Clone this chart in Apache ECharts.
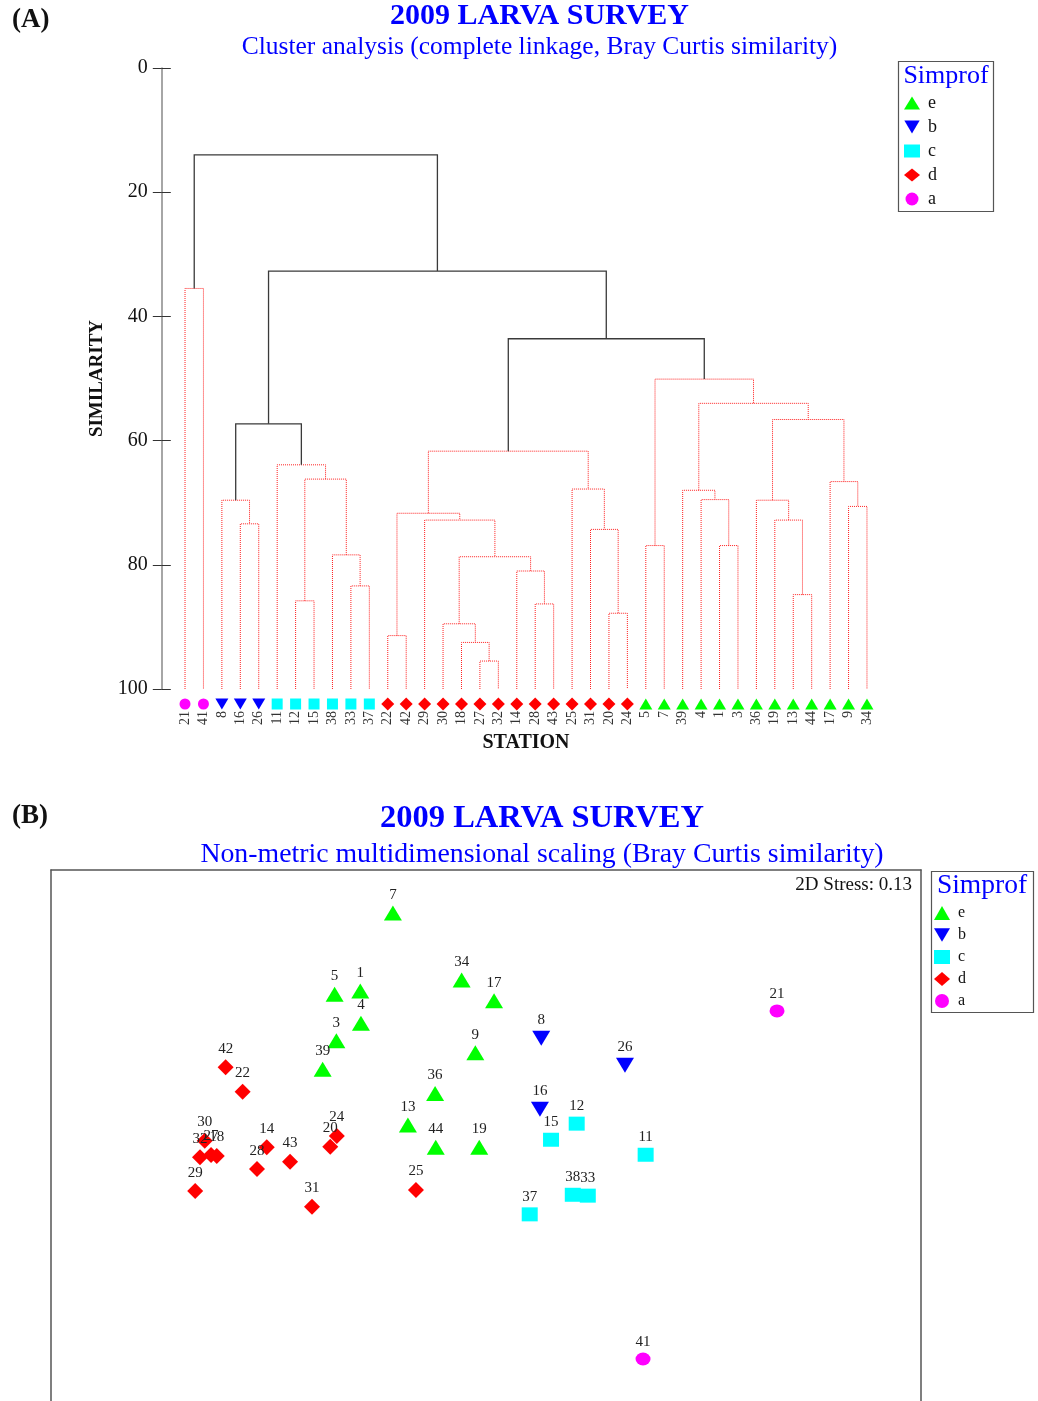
<!DOCTYPE html>
<html><head><meta charset="utf-8">
<script src="https://cdn.jsdelivr.net/npm/echarts@6/dist/echarts.min.js"></script>
<style>html,body{margin:0;padding:0;background:#fff}#c{width:1038px;height:1401px}</style>
</head><body><div id="c"></div>
<script>
// ---------- DATA ----------
// Dendrogram leaf order (stations) and their SIMPROF group
const stations = ['21','41','8','16','26','11','12','15','38','33','37','22','42','29','30','18','27','32','14','28','43','25','31','20','24','5','7','39','4','1','3','36','19','13','44','17','9','34'];
const stationGroup = ['a','a','b','b','b','c','c','c','c','c','c','d','d','d','d','d','d','d','d','d','d','d','d','d','d','e','e','e','e','e','e','e','e','e','e','e','e','e'];
// Merges: [child A, child B, similarity, significant]; 'mK' refers to merge K
const merges = [
  ['21','41',35.5,false],   // m0
  ['16','26',73.4,false],   // m1
  ['8','m1',69.6,false],    // m2
  ['33','37',83.4,false],   // m3
  ['38','m3',78.4,false],   // m4
  ['12','15',85.8,false],   // m5
  ['m5','m4',66.2,false],   // m6
  ['11','m6',63.9,false],   // m7
  ['m2','m7',57.3,true],    // m8
  ['22','42',91.4,false],   // m9
  ['27','32',95.5,false],   // m10
  ['18','m10',92.5,false],  // m11
  ['30','m11',89.5,false],  // m12
  ['28','43',86.3,false],   // m13
  ['14','m13',81.0,false],  // m14
  ['m12','m14',78.7,false], // m15
  ['29','m15',72.8,false],  // m16
  ['m9','m16',71.7,false],  // m17
  ['20','24',87.8,false],   // m18
  ['31','m18',74.3,false],  // m19
  ['25','m19',67.8,false],  // m20
  ['m17','m20',61.7,false], // m21
  ['5','7',76.9,false],     // m22
  ['1','3',76.9,false],     // m23
  ['4','m23',69.5,false],   // m24
  ['39','m24',68.0,false],  // m25
  ['13','44',84.8,false],   // m26
  ['19','m26',72.8,false],  // m27
  ['36','m27',69.6,false],  // m28
  ['9','34',70.6,false],    // m29
  ['17','m29',66.6,false],  // m30
  ['m28','m30',56.6,false], // m31
  ['m25','m31',54.0,false], // m32
  ['m22','m32',50.1,false], // m33
  ['m21','m33',43.6,true],  // m34
  ['m8','m34',32.7,true],   // m35
  ['m0','m35',14.0,true]    // m36
];
const simMin = 0, simMax = 100, simInterval = 20;
const groups = ['e','b','c','d','a'];
// NMDS ordination coordinates
const nmdsStation = ['7','5','1','4','3','39','34','17','9','36','13','44','19','42','22','30','32','27','18','14','28','43','29','31','24','20','25','8','26','16','12','15','11','38','33','37','21','41'];
const nmdsX = [-0.428,-0.696,-0.578,-0.575,-0.688,-0.751,-0.112,0.037,-0.049,-0.234,-0.359,-0.231,-0.031,-1.197,-1.119,-1.293,-1.315,-1.264,-1.238,-1.008,-1.053,-0.901,-1.337,-0.800,-0.686,-0.716,-0.322,0.254,0.639,0.248,0.417,0.299,0.734,0.399,0.468,0.201,1.338,0.722];
const nmdsY = [1.102,0.729,0.744,0.595,0.515,0.384,0.794,0.699,0.460,0.273,0.128,0.025,0.025,0.393,0.281,0.055,-0.021,-0.010,-0.015,0.025,-0.075,-0.041,-0.176,-0.248,0.077,0.028,-0.171,0.526,0.403,0.200,0.134,0.060,-0.009,-0.193,-0.197,-0.283,0.652,-0.948];
const nmdsXRange = [-2, 2], nmdsYRange = [-1.141, 1.3];
const stressText = '2D Stress: 0.13';

// ---------- STYLES ----------
const SERIF = '"Liberation Serif","Times New Roman",serif';
const groupStyle = {
  e: {color:'#00ff00', symbol:'triangle', top:[13,11], nmds:[18,15]},
  b: {color:'#0000ff', symbol:'path://M0,0L20,0L10,17Z', top:[13,11], nmds:[18,15]},
  c: {color:'#00ffff', symbol:'rect', top:[11,11], nmds:[16,14]},
  d: {color:'#ff0000', symbol:'diamond', top:[13,13], nmds:[16,16]},
  a: {color:'#ff00ff', symbol:'circle', top:[11,11], nmds:[15,13]}
};
const frameLine = {show:true, onZero:false, lineStyle:{color:'#555', width:1.5}};

// ---------- BUILD ----------
const chart = echarts.init(document.getElementById('c'), null, {renderer:'canvas'});

function nodeH(ref){ return ref[0]==='m' ? merges[+ref.slice(1)][2] : simMax; }
function nodeX(ref, api){
  if (ref[0]==='m'){ const m = merges[+ref.slice(1)]; return (nodeX(m[0],api)+nodeX(m[1],api))/2; }
  return api.coord([stations.indexOf(ref), simMax])[0];
}

const series = [];
series.push({
  type:'custom', xAxisIndex:0, yAxisIndex:0, silent:true, z:1,
  data: merges.map((m,i)=>[0, m[2]]),
  renderItem(params, api){
    const m = merges[params.dataIndex];
    const yTop = api.coord([0, m[2]])[1];
    const a = {x:nodeX(m[0],api), y:api.coord([0,nodeH(m[0])])[1]};
    const b = {x:nodeX(m[1],api), y:api.coord([0,nodeH(m[1])])[1]};
    const st = m[3] ? {stroke:'#3a3a3a', lineWidth:1.3, fill:null}
                    : {stroke:'#ff2020', lineWidth:1, lineDash:[1,1], fill:null};
    return {type:'polyline', shape:{points:[[a.x,a.y],[a.x,yTop],[b.x,yTop],[b.x,b.y]]}, style:st};
  }
});
groups.forEach(g=>{
  const gs = groupStyle[g];
  series.push({
    type:'scatter', name:g, xAxisIndex:0, yAxisIndex:0, clip:false, silent:true, z:3,
    symbol:gs.symbol, symbolSize:gs.top, symbolOffset:[0,15],
    itemStyle:{color:gs.color, opacity:1},
    data: stations.filter((s,i)=>stationGroup[i]===g).map(s=>[s, simMax])
  });
});
groups.forEach(g=>{
  const gs = groupStyle[g];
  const data = [];
  nmdsStation.forEach((s,i)=>{ if (stationGroup[stations.indexOf(s)]===g) data.push([nmdsX[i], nmdsY[i], s]); });
  series.push({
    type:'scatter', name:g, xAxisIndex:1, yAxisIndex:2, clip:false, silent:true, z:3,
    symbol:gs.symbol, symbolSize:gs.nmds,
    itemStyle:{color:gs.color, opacity:1},
    label:{show:true, position:'top', distance:3, formatter:p=>p.value[2], fontFamily:SERIF, fontSize:15, color:'#222'},
    data
  });
});

function txt(text, x, y, font, fill, align){
  return {type:'text', x, y, silent:true, z:10, style:{text, font, fill, align:align||'center', verticalAlign:'middle', textAlign:align||'center', textVerticalAlign:'middle'}};
}
const hiddenParts = {axisTick:{show:false}, axisLabel:{show:false}, splitLine:{show:false}};

const option = {
  animation:false,
  backgroundColor:'#fff',
  grid:[
    {left:175.8, right:161.8, top:68, bottom:712},
    {left:51, right:117, top:870, bottom:0}
  ],
  xAxis:[
    {gridIndex:0, type:'category', data:stations, boundaryGap:true,
     axisLine:{show:false}, axisTick:{show:false}, splitLine:{show:false},
     axisLabel:{rotate:90, interval:0, margin:22, fontSize:14, fontFamily:SERIF, color:'#333'},
     name:'STATION', nameLocation:'middle', nameGap:44,
     nameTextStyle:{fontSize:20, fontWeight:'bold', fontFamily:SERIF, color:'#111'}},
    Object.assign({gridIndex:1, type:'value', min:nmdsXRange[0], max:nmdsXRange[1], position:'top', axisLine:frameLine}, hiddenParts)
  ],
  yAxis:[
    {gridIndex:0, type:'value', min:simMin, max:simMax, interval:simInterval, inverse:true, position:'left', offset:14,
     axisLine:{show:true, lineStyle:{color:'#888', width:1.5}},
     axisTick:{show:true, inside:false, length:9, lineStyle:{color:'#333', width:1}},
     axisLabel:{margin:14, fontSize:20, fontFamily:SERIF, color:'#111'},
     splitLine:{show:false},
     name:'SIMILARITY', nameLocation:'middle', nameGap:54,
     nameTextStyle:{fontSize:19, fontWeight:'bold', fontFamily:SERIF, color:'#111'}},
    {gridIndex:0, type:'value', min:simMin, max:simMax, interval:simInterval, inverse:true, position:'left', offset:14,
     axisLine:{show:false}, axisTick:{show:true, inside:true, length:9, lineStyle:{color:'#333', width:1}},
     axisLabel:{show:false}, splitLine:{show:false}},
    Object.assign({gridIndex:1, type:'value', min:nmdsYRange[0], max:nmdsYRange[1], position:'left', axisLine:frameLine}, hiddenParts),
    Object.assign({gridIndex:1, type:'value', min:nmdsYRange[0], max:nmdsYRange[1], position:'right', axisLine:frameLine}, hiddenParts)
  ],
  legend:[
    {data:groups, orient:'vertical', left:899, top:89, itemWidth:16, itemHeight:13, itemGap:6,
     selectedMode:false, textStyle:{fontSize:18, lineHeight:18, fontFamily:SERIF, color:'#111', padding:[0,0,0,3]}},
    {data:groups, orient:'vertical', left:929, top:900, itemWidth:16, itemHeight:14, itemGap:6,
     selectedMode:false, textStyle:{fontSize:16, lineHeight:16, fontFamily:SERIF, color:'#111', padding:[0,0,0,3]}}
  ],
  graphic:[
    {type:'rect', shape:{x:898.5, y:61.5, width:95, height:150}, style:{fill:null, stroke:'#555', lineWidth:1.2}, silent:true},
    {type:'rect', shape:{x:931.5, y:871.5, width:102, height:141}, style:{fill:null, stroke:'#555', lineWidth:1.2}, silent:true},
    txt('(A)', 12, 20, 'bold 27px '+SERIF, '#111', 'left'),
    txt('2009 LARVA SURVEY', 539.5, 16, 'bold 30px '+SERIF, '#0000ff'),
    txt('Cluster analysis (complete linkage, Bray Curtis similarity)', 539.5, 47, '25.5px '+SERIF, '#0000ff'),
    txt('(B)', 12, 816, 'bold 27px '+SERIF, '#111', 'left'),
    txt('2009 LARVA SURVEY', 542, 819, 'bold 32.5px '+SERIF, '#0000ff'),
    txt('Non-metric multidimensional scaling (Bray Curtis similarity)', 542, 855, '27.8px '+SERIF, '#0000ff'),
    txt('Simprof', 946, 76, '26px '+SERIF, '#0000ff'),
    txt('Simprof', 982, 886, '27.5px '+SERIF, '#0000ff'),
    txt(stressText, 912, 885, '19px '+SERIF, '#111', 'right')
  ],
  series
};
chart.setOption(option);
</script></body></html>
